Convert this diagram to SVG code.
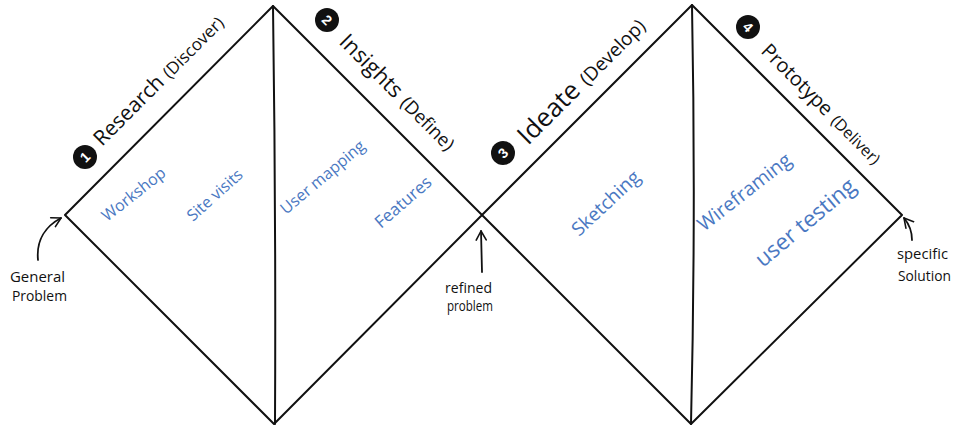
<svg xmlns="http://www.w3.org/2000/svg" width="954" height="428" viewBox="0 0 954 428">
<defs>
<marker id="ah" viewBox="0 0 12 12" refX="10" refY="6" markerWidth="12" markerHeight="12" markerUnits="userSpaceOnUse" orient="auto">
<path d="M1,1 L10,6 L1,11" fill="none" stroke="#111" stroke-width="1.6" stroke-linecap="round" stroke-linejoin="round"/>
</marker>
<style>
.ln{fill:none;stroke:#111;stroke-width:2;stroke-linecap:round;stroke-linejoin:round}
.arr{fill:none;stroke:#111;stroke-width:1.8;stroke-linecap:round}
.ph{font-family:"Open Sans","Liberation Sans",sans-serif;fill:#111}
.bl{font-family:"Open Sans","Liberation Sans",sans-serif;fill:#4a78c2}
.an{font-family:"Open Sans","Liberation Sans",sans-serif;fill:#111;font-size:15px}
.num{fill:#111}
.numt{font-family:"Liberation Sans",sans-serif;fill:#fff;font-size:14px;font-weight:bold;text-anchor:middle}
</style>
</defs>
<rect width="954" height="428" fill="#fff"/>
<g id="connectors">
<path class="ln" d="M65,215 L273,6 L482,215 L274,424 Z"/>
<path class="ln" d="M482,215 L692,5 L902,215 L691,424 Z"/>
<path class="ln" d="M273,6 Q276,215 275,424"/>
<path class="ln" d="M692,5 Q696,215 691,424"/>
<path class="arr" d="M38,260 C36,240 46,226 61,218" marker-end="url(#ah)"/>
<path class="arr" d="M482,272 L481,231" marker-end="url(#ah)"/>
<path class="arr" d="M912,240 C912,231 909,224 904,218" marker-end="url(#ah)"/>
</g>
<g id="phase1">
<circle class="num" cx="85" cy="157" r="12"/>
<text class="numt" transform="translate(85,157) rotate(-45)" y="5">1</text>
<text class="ph" transform="translate(102,147) rotate(-45)"><tspan font-size="21">Research</tspan><tspan font-size="17" dx="6">(Discover)</tspan></text>
</g>
<g id="phase2">
<circle class="num" cx="327" cy="20" r="12"/>
<text class="numt" transform="translate(327,20) rotate(45)" y="5">2</text>
<text class="ph" transform="translate(338,43) rotate(45)"><tspan font-size="22">Insights</tspan><tspan font-size="18.5" dx="7">(Define)</tspan></text>
</g>
<g id="phase3">
<circle class="num" cx="503" cy="153" r="12"/>
<text class="numt" transform="translate(503,153) rotate(-45)" y="5">3</text>
<text class="ph" transform="translate(528,146) rotate(-45)"><tspan font-size="26">Ideate</tspan><tspan font-size="19" dx="8">(Develop)</tspan></text>
</g>
<g id="phase4">
<circle class="num" cx="748" cy="27" r="12"/>
<text class="numt" transform="translate(748,27) rotate(45)" y="5">4</text>
<text class="ph" transform="translate(760,52) rotate(45)"><tspan font-size="20">Prototype</tspan><tspan font-size="16" dx="7">(Deliver)</tspan></text>
</g>
<g id="activities">
<text class="bl" font-size="16" transform="translate(107,222) rotate(-38)">Workshop</text>
<text class="bl" font-size="16" transform="translate(193,222) rotate(-42)">Site visits</text>
<text class="bl" font-size="16" transform="translate(286,215) rotate(-40)">User mapping</text>
<text class="bl" font-size="17" transform="translate(381,229) rotate(-41)">Features</text>
<text class="bl" font-size="19" transform="translate(579,237) rotate(-43)">Sketching</text>
<text class="bl" font-size="19.5" transform="translate(704,232) rotate(-38)">Wireframing</text>
<text class="bl" font-size="22.5" transform="translate(763,268) rotate(-40)">user testing</text>
</g>
<g id="start-label">
<text class="an" x="10" y="282" textLength="55" lengthAdjust="spacingAndGlyphs">General</text>
<text class="an" x="12" y="301" textLength="55" lengthAdjust="spacingAndGlyphs">Problem</text>
</g>
<g id="mid-label">
<text class="an" x="445" y="293" font-size="14" textLength="47" lengthAdjust="spacingAndGlyphs">refined</text>
<text class="an" x="447" y="311" font-size="13.5" textLength="46" lengthAdjust="spacingAndGlyphs">problem</text>
</g>
<g id="end-label">
<text class="an" x="897" y="259" font-size="14" textLength="51" lengthAdjust="spacingAndGlyphs">specific</text>
<text class="an" x="898" y="281" font-size="14" textLength="53" lengthAdjust="spacingAndGlyphs">Solution</text>
</g>
</svg>
